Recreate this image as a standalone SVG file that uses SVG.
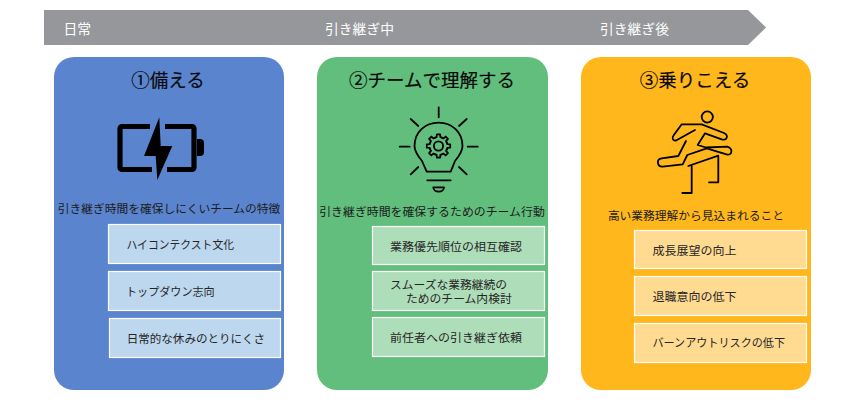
<svg xmlns="http://www.w3.org/2000/svg" width="865" height="410" viewBox="0 0 865 410">
<style>
text{font-family:"Noto Sans CJK JP","Noto Sans",sans-serif;fill:#1c1c1c}
.phase{font-size:13.8px;fill:#fff}
.title{font-size:18.5px;text-anchor:middle;fill:#0a0a0a;stroke:#0a0a0a;stroke-width:.2}
.sub{font-size:11.75px;text-anchor:middle}
.item{font-size:11.8px;fill:#262626}
.box{stroke:#fff;stroke-width:1.2}
.blue{fill:#5B84CE}.green{fill:#62BE7C}.yellow{fill:#FFB71B}
.lb{fill:#BDD7EE}.lg{fill:#AEDDB9}.ly{fill:#FFDA91}
.icon{fill:none;stroke:#000;stroke-width:1.8;stroke-linecap:round;stroke-linejoin:round}
</style>
<defs>
<path id="tooth" d="M-3.44-8.31L-1.87-8.8L-1.64-11.7H1.64L1.87-8.8L3.44-8.31"/>
</defs>
<g id="timeline">
<polygon points="44,10 748,10 766,27.5 748,45 44,45" fill="#96979A"/>
<text class="phase" x="63.5" y="34">日常</text>
<text class="phase" x="325" y="34">引き継ぎ中</text>
<text class="phase" x="600" y="34">引き継ぎ後</text>
</g>
<g id="card1">
<rect class="blue" x="54" y="57" width="230" height="333" rx="20"/>
<text class="title" x="168" y="87">①備える</text>
<path d="M150,126.5H122a2,2 0 0 0-2,2V167.5a2,2 0 0 0 2,2H152M165,126.5H192a2,2 0 0 1 2,2V167.5a2,2 0 0 1-2,2H167" fill="none" stroke="#000" stroke-width="5.2"/>
<path d="M197,139H200a4,4 0 0 1 4,4V152a4,4 0 0 1-4,4H197Z" fill="#000"/>
<polygon points="159.3,117.3 144,156 155.7,156 157.3,180 172.3,146 160.7,146" fill="#000"/>
<text class="sub" x="169" y="212.5">引き継ぎ時間を確保しにくいチームの特徴</text>
<rect class="box lb" x="108.5" y="224.5" width="172" height="39"/>
<text class="item" x="126.5" y="249" textLength="107.5" lengthAdjust="spacingAndGlyphs">ハイコンテクスト文化</text>
<rect class="box lb" x="108.5" y="271.5" width="172" height="39"/>
<text class="item" x="126" y="296" textLength="88.7" lengthAdjust="spacingAndGlyphs">トップダウン志向</text>
<rect class="box lb" x="109.5" y="318.5" width="171" height="39"/>
<text class="item" x="126.7" y="343" textLength="138.3" lengthAdjust="spacingAndGlyphs">日常的な休みのとりにくさ</text>
</g>
<g id="card2">
<rect class="green" x="317" y="57" width="231" height="333" rx="20"/>
<text class="title" x="432" y="87">②チームで理解する</text>
<g class="icon">
<path d="M438.7,107.3V117.3M399.7,146.7H409.7M467.7,146.7H477.7M410.7,119L418.3,126M466.7,119L459,126M410.7,174.3L418.3,167M466.7,174.3L459,167"/>
<path d="M426.7,171.7H450.7L455,161C460,155 462.5,151 462.5,146C462.5,132 452,122.7 438.7,122.7C425,122.7 414.5,132 414.5,146C414.5,151 417,155 422,161Z"/>
<path d="M427.3,180.3H450.7M433.3,187.3H444C444,190 441.5,191.7 438.7,191.7C436,191.7 433.3,190 433.3,187.3Z"/>
<circle cx="438.5" cy="146" r="4.6"/>
<g transform="translate(438.5,146)">
<use href="#tooth"/><use href="#tooth" transform="rotate(45)"/><use href="#tooth" transform="rotate(90)"/><use href="#tooth" transform="rotate(135)"/><use href="#tooth" transform="rotate(180)"/><use href="#tooth" transform="rotate(225)"/><use href="#tooth" transform="rotate(270)"/><use href="#tooth" transform="rotate(315)"/>
</g>
</g>
<text class="sub" x="432" y="215.5" style="font-size:11.9px">引き継ぎ時間を確保するためのチーム行動</text>
<rect class="box lg" x="372.5" y="226.5" width="172" height="38"/>
<text class="item" x="390" y="251" textLength="132" lengthAdjust="spacingAndGlyphs">業務優先順位の相互確認</text>
<rect class="box lg" x="372.5" y="271.5" width="172" height="39"/>
<text class="item"><tspan x="390" y="288.5" textLength="117" lengthAdjust="spacingAndGlyphs">スムーズな業務継続の</tspan><tspan x="406" y="303" textLength="105.7" lengthAdjust="spacingAndGlyphs">ためのチーム内検討</tspan></text>
<rect class="box lg" x="372.5" y="317.5" width="172" height="39"/>
<text class="item" x="390" y="342" textLength="132" lengthAdjust="spacingAndGlyphs">前任者への引き継ぎ依頼</text>
</g>
<g id="card3">
<rect class="yellow" x="581" y="57" width="230" height="333" rx="20"/>
<text class="title" x="695" y="87">③乗りこえる</text>
<g class="icon">
<circle cx="707.3" cy="117" r="5.6"/>
<path d="M695,130L676,140.5C673,141 671.5,138 673.5,135.5L681.7,124.3H701.7L724,133C729,135.5 727,141 721.7,139.3L705,133.3L697.7,145L706,147.5L727.3,146.7C733,148.5 732.5,155 727.3,154.7L706.7,148.3L687.3,155L682.7,164.3L662.7,166.7C657,167 656,159 661.7,158.3L678.3,156L686,141"/>
<path d="M688.3,166L718.3,155.7V182.3H709M691.7,166V193H682.3"/>
</g>
<text class="sub" x="696" y="219.5">高い業務理解から見込まれること</text>
<rect class="box ly" x="634.5" y="230.5" width="172" height="38"/>
<text class="item" x="652.5" y="255" textLength="84" lengthAdjust="spacingAndGlyphs">成長展望の向上</text>
<rect class="box ly" x="634.5" y="276.5" width="172" height="39"/>
<text class="item" x="652.5" y="301" textLength="84" lengthAdjust="spacingAndGlyphs">退職意向の低下</text>
<rect class="box ly" x="634.5" y="323.5" width="172" height="39"/>
<text class="item" x="652.5" y="347" textLength="132.5" lengthAdjust="spacingAndGlyphs">バーンアウトリスクの低下</text>
</g>
</svg>
